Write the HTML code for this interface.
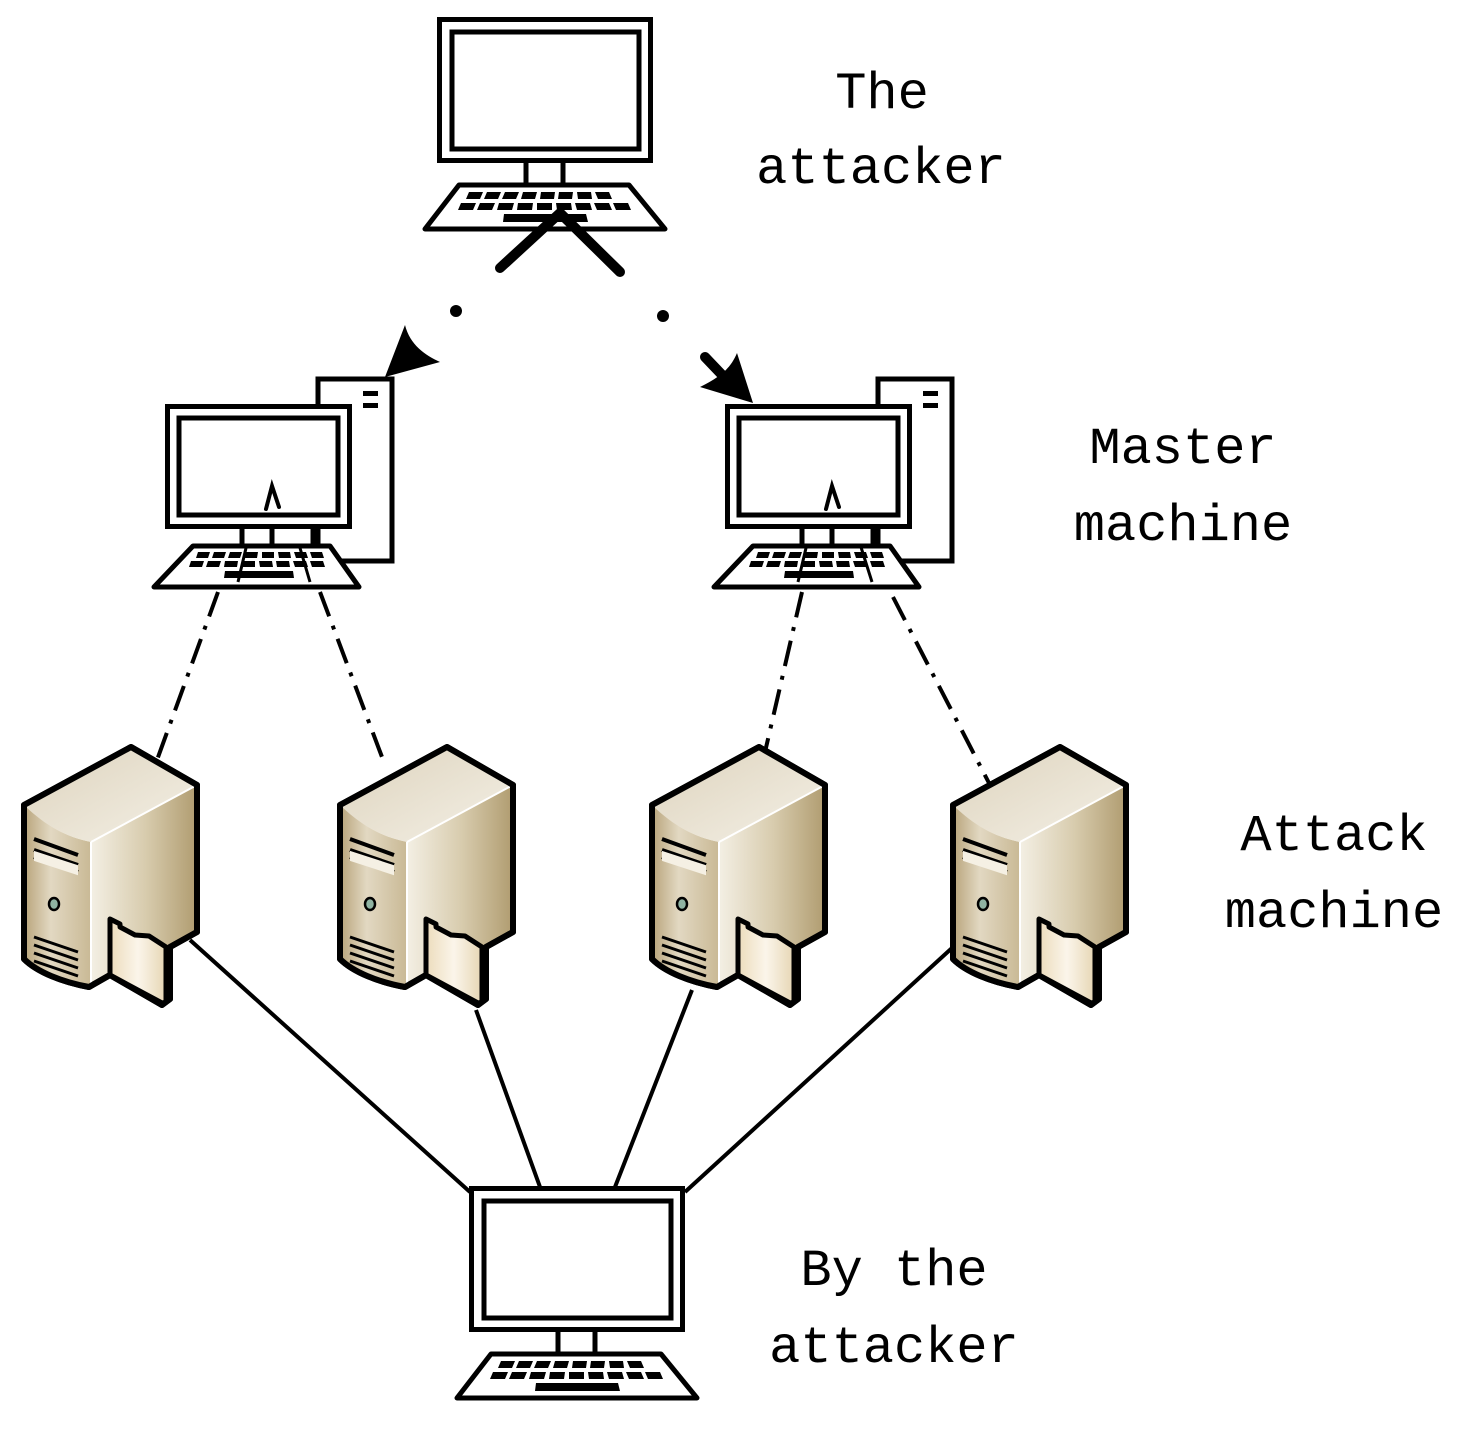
<!DOCTYPE html>
<html><head><meta charset="utf-8"><style>
html,body{margin:0;padding:0;background:#fff;}
svg{display:block}
text{font-family:"Liberation Mono","Noto Serif CJK SC",monospace;font-size:52px;fill:#000;}
</style></head><body>
<svg width="1462" height="1429" viewBox="0 0 1462 1429" xmlns="http://www.w3.org/2000/svg">
<defs>
<linearGradient id="gl" x1="0" y1="0" x2="1" y2="0">
<stop offset="0" stop-color="#b8a47a"/><stop offset="0.4" stop-color="#e2d8c2"/><stop offset="1" stop-color="#c9b995"/>
</linearGradient>
<linearGradient id="gr" x1="0" y1="0" x2="1" y2="0">
<stop offset="0" stop-color="#d6cbb2"/><stop offset="0.3" stop-color="#fbf9f3"/><stop offset="0.7" stop-color="#d8ccae"/><stop offset="1" stop-color="#b09c70"/>
</linearGradient>
<linearGradient id="gt" x1="0" y1="0" x2="1" y2="1">
<stop offset="0" stop-color="#ddd3bd"/><stop offset="1" stop-color="#f4f0e6"/>
</linearGradient>
<linearGradient id="gf" x1="0" y1="0" x2="1" y2="0">
<stop offset="0" stop-color="#ecdcbc"/><stop offset="0.5" stop-color="#fbf5ea"/><stop offset="1" stop-color="#e6d6b4"/>
</linearGradient>
<g id="srv">
<path d="M2,58 L109,0 L175,38 L175,185 L148,200 L148,252 L140,258 L88,228 L67,240 C40,235 15,225 2,212 Z" fill="url(#gr)" stroke="#000" stroke-width="6" stroke-linejoin="round"/>
<path d="M2,58 C25,80 45,90 69,95 L69,240 C40,235 15,225 2,212 Z" fill="url(#gl)"/>
<path d="M2,58 L109,0 L175,38 L69,95 C45,90 25,80 2,58 Z" fill="url(#gt)"/>
<path d="M69,95 L175,38" stroke="#fff" stroke-width="2"/>
<path d="M69,95 L69,240" stroke="#fff" stroke-width="2"/>
<path d="M2,58 L109,0 L175,38 L175,185 L148,200 L148,252 L140,258 L88,228 L67,240 C40,235 15,225 2,212 Z" fill="none" stroke="#000" stroke-width="6" stroke-linejoin="round"/>
<path d="M12,92 L56,108 M12,103 L56,118 M12,110 L56,125" stroke="#000" stroke-width="4"/>
<rect x="12" y="104" width="44" height="10" fill="#f5f0e4" transform="skewY(18) translate(0,-4)"/>
<ellipse cx="32" cy="157" rx="5" ry="6" fill="#8fb3a2" stroke="#000" stroke-width="2.5"/>
<path d="M12,190 L56,205 M12,198 L56,213 M12,206 L56,221 M12,214 L56,229" stroke="#000" stroke-width="3"/>
<path d="M88,172 L98,177 L98,180 L113,188 L127,189 L144,200 L144,255 L140,256 L88,228 Z" fill="url(#gf)" stroke="#000" stroke-width="5" stroke-linejoin="round"/>
</g>
<g id="mon">
<rect x="2.5" y="2.5" width="211" height="141" fill="#fff" stroke="#000" stroke-width="5"/>
<rect x="15" y="15" width="187" height="117" fill="#fff" stroke="#000" stroke-width="5"/>
<path d="M89,146 V168 M126,146 V168" stroke="#000" stroke-width="5"/>
<path d="M22,168 L192,168 L228,212 L-12,212 Z" fill="#fff" stroke="#000" stroke-width="5" stroke-linejoin="round"/>
<g fill="#000">
<path d="M32,175h14l-3,7h-14z M50,175h14l-3,7h-14z M68,175h14l-3,7h-14z M86,175h14l-2,7h-14z M104,175h14l-1,7h-14z M122,175h14l-1,7h-14z M140,175h14l1,7h-14z M158,175h14l3,7h-14z"/>
<path d="M24,186h15l-3,7h-15z M43,186h15l-3,7h-15z M62,186h15l-2,7h-15z M81,186h15l-1,7h-15z M100,186h15v7h-15z M119,186h15l1,7h-15z M138,186h15l2,7h-15z M157,186h15l3,7h-15z M176,186h15l3,7h-15z"/>
<path d="M67,197h82l2,8h-85z"/>
</g>
</g>
<g id="mon2">
<rect x="2.5" y="2.5" width="182" height="120" fill="#fff" stroke="#000" stroke-width="5"/>
<rect x="14" y="14" width="159" height="97" fill="#fff" stroke="#000" stroke-width="5"/>
<path d="M77,125 V142 M107,125 V142 M148,125 V142" stroke="#000" stroke-width="5"/>
<path d="M28,142 L165,142 L194,183 L-11,183 Z" fill="#fff" stroke="#000" stroke-width="5" stroke-linejoin="round"/>
<g fill="#000">
<path d="M33,148h12l-2,6h-12z M49,148h12l-2,6h-12z M65,148h12l-2,6h-12z M81,148h12l-1,6h-12z M97,148h12v6h-12z M113,148h12l1,6h-12z M129,148h12l2,6h-12z M145,148h12l2,6h-12z"/>
<path d="M26,157h13l-2,6h-13z M43,157h13l-2,6h-13z M60,157h13l-1,6h-13z M77,157h13v6h-13z M94,157h13l1,6h-13z M111,157h13l1,6h-13z M128,157h13l2,6h-13z M145,157h13l2,6h-13z"/>
<path d="M60,167h68l1,7h-70z"/>
</g>
<path d="M101,105 L107,82 L114,103" fill="none" stroke="#000" stroke-width="4" stroke-linecap="round"/>
</g>
</defs>

<!-- connectors -->
<g stroke="#000" stroke-width="4" fill="none">
<path d="M190,940 L470,1192 M476,1010 L540,1187 M692,990 L615,1187 M952,948 L685,1192"/>
<g stroke-dasharray="26,10,4,10">
<path d="M218,592 L157,760 M320,592 L385,765 M802,592 L765,752 M893,597 L990,785"/>
</g>
</g>

<!-- towers -->
<rect x="318" y="379" width="74" height="182" fill="#fff" stroke="#000" stroke-width="5"/>
<rect x="363" y="391" width="15" height="5" fill="#000"/><rect x="363" y="403" width="15" height="5" fill="#000"/>
<rect x="878" y="379" width="74" height="182" fill="#fff" stroke="#000" stroke-width="5"/>
<rect x="923" y="391" width="15" height="5" fill="#000"/><rect x="923" y="403" width="15" height="5" fill="#000"/>

<use href="#mon2" x="165" y="404"/>
<use href="#mon2" x="725" y="404"/>
<use href="#mon" x="437" y="17"/>
<use href="#mon" x="469" y="1186"/>

<!-- small ticks through master keyboards -->
<g stroke="#000" stroke-width="3" fill="none">
<path d="M246,548 L238,582 M300,548 L310,582"/>
<path d="M806,548 L798,582 M860,544 L872,582"/>
</g>

<!-- servers -->
<use href="#srv" x="22" y="747"/>
<use href="#srv" x="338" y="747"/>
<use href="#srv" x="650" y="747"/>
<use href="#srv" x="951" y="747"/>

<!-- arrows -->
<path d="M500,268 L560,213 L620,272" fill="none" stroke="#000" stroke-width="10" stroke-linecap="round" stroke-linejoin="round"/>
<circle cx="456" cy="311" r="6" fill="#000"/>
<circle cx="663" cy="316" r="6" fill="#000"/>
<path d="M385,377 L405,325 C410,345 425,355 440,362 Z" fill="#000"/>
<path d="M705,357 L725,378" stroke="#000" stroke-width="10" stroke-linecap="round"/>
<path d="M753,403 L737,353 C730,370 718,378 700,387 Z" fill="#000"/>

<!-- labels -->
<text x="882" y="108" text-anchor="middle">The</text>
<text x="881" y="183" text-anchor="middle">attacker</text>
<text x="1183" y="463" text-anchor="middle">Master</text>
<text x="1183" y="540" text-anchor="middle">machine</text>
<text x="1334" y="850" text-anchor="middle">Attack</text>
<text x="1334" y="927" text-anchor="middle">machine</text>
<text x="894" y="1285" text-anchor="middle">By the</text>
<text x="894" y="1362" text-anchor="middle">attacker</text>
</svg>
</body></html>
